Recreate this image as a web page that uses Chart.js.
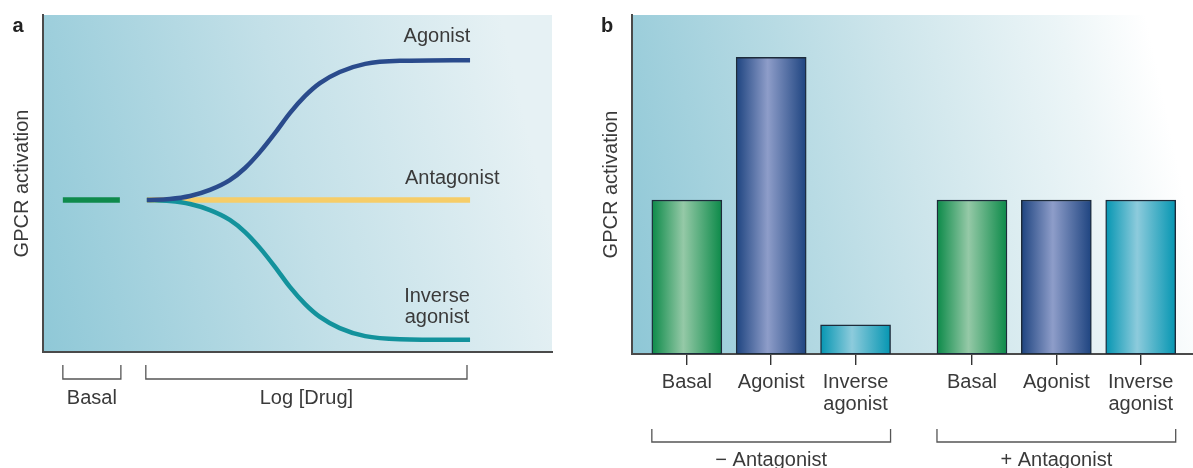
<!DOCTYPE html>
<html>
<head>
<meta charset="utf-8">
<script src="https://cdn.jsdelivr.net/npm/chart.js@4/dist/chart.umd.min.js"></script>
<style>
  body { margin: 0; background: #fff; }
  .wrap { position: relative; width: 1193px; height: 468px; overflow: hidden; }
  .pa { position: absolute; left: 0; top: 0; }
  .pb { position: absolute; left: 580px; top: 0; }
</style>
</head>
<body>
<div class="wrap">
  <div class="pa"><canvas id="chartA" width="570" height="468"></canvas></div>
  <div class="pb"><canvas id="chartB" width="613" height="468"></canvas></div>
</div>
<script>
// ---- panel a: dose-response curves (x = position along log [drug], y = activation %) ----
const basalX = [3.9, 15.1];
const basalY = [45.1, 45.1];
const antagonistX = [20.4, 83.9];
const antagonistY = [45.1, 45.1];
const curveX = [20.4, 24.9, 28.9, 32.8, 36.7, 39.7, 42.6, 45.6, 48.5, 51.5, 54.4, 58.3, 63.3, 70.1, 83.9];
const agonistY = [45.1, 45.4, 46.3, 48.1, 51.0, 54.6, 59.3, 65.0, 70.9, 76.0, 79.8, 83.1, 85.5, 86.4, 86.6];
const inverseY = [45.1, 44.8, 43.9, 42.1, 39.2, 35.6, 30.9, 25.2, 19.3, 14.2, 10.4, 7.1, 4.7, 3.8, 3.6];
const aGroupLabels = ['Basal', 'Log [Drug]'];
const aGroupFrom = [3.9, 20.2];
const aGroupTo = [15.3, 83.3];

// ---- panel b: bar heights ----
const bLabels = [['Basal'], ['Agonist'], ['Inverse', 'agonist'], ['Basal'], ['Agonist'], ['Inverse', 'agonist']];
const bPositions = [1, 2, 3, 4.38, 5.38, 6.38];
const bValues = [45.4, 87.5, 8.6, 45.4, 45.4, 45.4];
const bKinds = ['basal', 'agonist', 'inverse', 'basal', 'agonist', 'inverse'];
const bGroupLabels = ['\u2212 Antagonist', '+ Antagonist'];
const bGroupFirst = [0, 3];
const bGroupLast = [2, 5];

const FONT = "'Liberation Sans', Arial, Helvetica, sans-serif";
const TEXT = '#3a3a3a';
const AXIS = '#4a4a4a';
const FS = 20;
const barWidth = 70;
const barShades = {
  basal: ['#0c8a49', '#95c9a7'],
  agonist: ['#1e4480', '#8e9dc9'],
  inverse: ['#0596b2', '#8dcbdc']
};

Chart.defaults.font.family = FONT;
Chart.defaults.color = TEXT;

function pts(xs, ys) {
  return xs.map((x, i) => ({ x: x, y: ys[i] }));
}

// background wash behind the plot area
function washPlugin(stops) {
  return {
    id: 'wash',
    beforeDraw(chart) {
      const { ctx, chartArea: a } = chart;
      const g = ctx.createLinearGradient(a.left, a.bottom, a.right, a.bottom - 120);
      stops.forEach(s => g.addColorStop(s[0], s[1]));
      ctx.save();
      ctx.fillStyle = g;
      ctx.fillRect(a.left, a.top, a.right - a.left, a.bottom - a.top);
      ctx.restore();
    }
  };
}

function panelLetter(letter, x, y) {
  return {
    id: 'letter',
    afterDraw(chart) {
      const ctx = chart.ctx;
      ctx.save();
      ctx.font = 'bold 20px ' + FONT;
      ctx.fillStyle = '#222';
      ctx.textAlign = 'center';
      ctx.textBaseline = 'middle';
      ctx.fillText(letter, x, y);
      ctx.restore();
    }
  };
}

function bracket(ctx, x0, x1, yTop, yBot) {
  ctx.beginPath();
  ctx.moveTo(x0, yTop);
  ctx.lineTo(x0, yBot);
  ctx.lineTo(x1, yBot);
  ctx.lineTo(x1, yTop);
  ctx.stroke();
}

// curve labels in panel a
const aNotes = [
  { text: 'Agonist', x: 77.4, y: 93.5 },
  { text: 'Antagonist', x: 80.4, y: 51.6 },
  { text: 'Inverse', x: 77.4, y: 16.6 },
  { text: 'agonist', x: 77.4, y: 10.1 }
];

const aExtras = {
  id: 'aExtras',
  afterDraw(chart) {
    const { ctx, scales: { x, y }, chartArea: a } = chart;
    ctx.save();
    ctx.font = FS + 'px ' + FONT;
    ctx.fillStyle = TEXT;
    ctx.textAlign = 'center';
    ctx.textBaseline = 'middle';
    aNotes.forEach(n => ctx.fillText(n.text, x.getPixelForValue(n.x), y.getPixelForValue(n.y)));
    ctx.strokeStyle = '#555';
    ctx.lineWidth = 1.3;
    aGroupFrom.forEach((f, i) => {
      bracket(ctx, x.getPixelForValue(f), x.getPixelForValue(aGroupTo[i]), a.bottom + 13, a.bottom + 27);
    });
    ctx.restore();
  }
};

const bExtras = {
  id: 'bExtras',
  afterDraw(chart) {
    const { ctx, scales: { x }, chartArea: a } = chart;
    ctx.save();
    ctx.strokeStyle = '#555';
    ctx.lineWidth = 1.3;
    ctx.font = FS + 'px ' + FONT;
    ctx.fillStyle = TEXT;
    ctx.textAlign = 'center';
    ctx.textBaseline = 'middle';
    bGroupFirst.forEach((f, i) => {
      const x0 = x.getPixelForValue(bPositions[f]) - barWidth / 2;
      const x1 = x.getPixelForValue(bPositions[bGroupLast[i]]) + barWidth / 2;
      bracket(ctx, x0, x1, a.bottom + 75, a.bottom + 88);
      ctx.fillText(bGroupLabels[i], (x0 + x1) / 2, a.bottom + 106);
    });
    ctx.restore();
  }
};

const yAxisCommon = {
  min: 0,
  max: 100,
  grid: { display: false, drawTicks: false },
  border: { display: true, color: AXIS, width: 2 },
  ticks: { display: false },
  title: {
    display: true,
    text: 'GPCR activation',
    color: TEXT,
    font: { size: FS },
    padding: { top: 0, bottom: 9 }
  }
};

// Panel a
new Chart(document.getElementById('chartA'), {
  type: 'line',
  data: {
    datasets: [
      { label: 'Agonist', data: pts(curveX, agonistY), borderColor: '#2a4b8c', borderWidth: 4.5, cubicInterpolationMode: 'monotone' },
      { label: 'Inverse agonist', data: pts(curveX, inverseY), borderColor: '#13929c', borderWidth: 4.5, cubicInterpolationMode: 'monotone' },
      { label: 'Antagonist', data: pts(antagonistX, antagonistY), borderColor: '#f6cd68', borderWidth: 5.5 },
      { label: 'Basal', data: pts(basalX, basalY), borderColor: '#0f8a4c', borderWidth: 5.5 }
    ]
  },
  options: {
    responsive: false,
    animation: false,
    layout: { padding: { left: 10, top: 15, right: 18, bottom: 24 } },
    elements: { point: { radius: 0 }, line: { fill: false } },
    plugins: { legend: { display: false }, tooltip: { enabled: false } },
    scales: {
      x: {
        type: 'linear',
        min: 0,
        max: 100,
        grid: { display: false, drawTicks: false },
        border: { display: true, color: AXIS, width: 2 },
        afterBuildTicks(scale) {
          scale.ticks = aGroupFrom.map((f, i) => ({ value: (f + aGroupTo[i]) / 2 }));
        },
        ticks: {
          autoSkip: false,
          maxRotation: 0,
          padding: 34,
          color: TEXT,
          font: { size: FS },
          callback: (v, i) => aGroupLabels[i]
        }
      },
      y: yAxisCommon
    }
  },
  plugins: [washPlugin([[0, '#8fc8d7'], [0.55, '#c3e0e8'], [1, '#e6f1f4']]), aExtras, panelLetter('a', 18, 26)]
});

// Panel b
new Chart(document.getElementById('chartB'), {
  type: 'bar',
  data: {
    datasets: [{
      label: 'GPCR activation',
      data: pts(bPositions, bValues),
      barThickness: barWidth,
      borderColor: '#1d2b3a',
      borderWidth: 1.4,
      borderSkipped: false,
      backgroundColor(c) {
        const kind = bKinds[c.dataIndex] || 'basal';
        const [edge, mid] = barShades[kind];
        const chart = c.chart;
        if (c.type !== 'data' || !chart.chartArea) return edge;
        const px = chart.scales.x.getPixelForValue(bPositions[c.dataIndex]);
        const g = chart.ctx.createLinearGradient(px - barWidth / 2, 0, px + barWidth / 2, 0);
        g.addColorStop(0, edge);
        g.addColorStop(0.45, mid);
        g.addColorStop(1, edge);
        return g;
      }
    }]
  },
  options: {
    responsive: false,
    animation: false,
    layout: { padding: { left: 19, top: 15, right: 0, bottom: 47 } },
    plugins: { legend: { display: false }, tooltip: { enabled: false } },
    scales: {
      x: {
        type: 'linear',
        min: 0.35,
        max: 7.0,
        offset: false,
        grid: { display: true, drawOnChartArea: false, drawTicks: true, tickLength: 11, color: '#333', lineWidth: 1.4, offset: false },
        border: { display: true, color: AXIS, width: 2 },
        afterBuildTicks(scale) {
          scale.ticks = bPositions.map(v => ({ value: v }));
        },
        ticks: {
          autoSkip: false,
          maxRotation: 0,
          padding: 6,
          color: TEXT,
          font: { size: FS, lineHeight: 1.1 },
          callback: (v, i) => bLabels[i]
        }
      },
      y: yAxisCommon
    }
  },
  plugins: [washPlugin([[0, '#8ec7d6'], [0.55, '#cde5eb'], [0.85, '#ecf5f7'], [1, '#ffffff']]), bExtras, panelLetter('b', 27, 26)]
});
</script>
</body>
</html>
